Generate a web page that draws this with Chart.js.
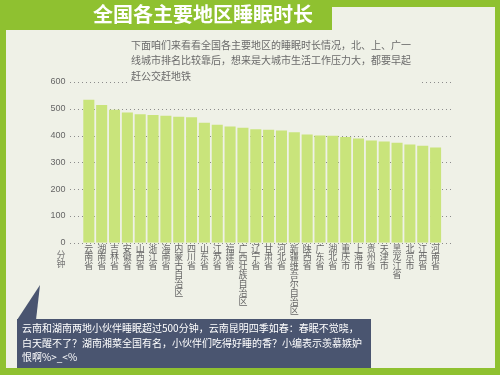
<!DOCTYPE html>
<html>
<head>
<meta charset="utf-8">
<script src="https://cdn.jsdelivr.net/npm/chart.js@4.4.1/dist/chart.umd.min.js"></script>
<style>
html,body{margin:0;padding:0;background:#8fc130;}
#wrap{width:500px;height:375px;position:relative;}
</style>
</head>
<body>
<div id="wrap"><canvas id="c" width="500" height="375"></canvas></div>
<script>
const categories = ["云南省","湖南省","吉林省","安徽省","山西省","浙江省","海南省","内蒙古自治区","四川省","山东省","江苏省","福建省","广西壮族自治区","辽宁省","甘肃省","河北省","新疆维吾尔自治区","陕西省","广东省","湖北省","重庆市","上海市","贵州省","天津市","黑龙江省","北京市","江西省","河南省"];
const sleepMinutes = [534,514,496,486,480,477,474,470,468,448,440,434,429,424,422,419,412,404,400,399,395,389,382,378,373,367,362,355];
const yTickValues = [0,100,200,300,400,500,600];
const titleText = "全国各主要地区睡眠时长";
const yUnitText = "分钟";
const descLines = ["下面咱们来看看全国各主要地区的睡眠时长情况，北、上、广一","线城市排名比较靠后，想来是大城市生活工作压力大，都要早起","赶公交赶地铁"];
const noteLines = ["云南和湖南两地小伙伴睡眠超过500分钟，云南昆明四季如春：春眠不觉晓，","白天醒不了？湖南湘菜全国有名，小伙伴们吃得好睡的香？小编表示羡慕嫉妒","恨啊%>_<%"];

const GREEN = "#8fc130";
const PANEL = "#eff1e7";
const CJK = '"Noto Sans CJK SC", "Noto Sans", sans-serif';

const decor = {
  id: "decor",
  beforeDraw(chart) {
    const ctx = chart.ctx;
    ctx.save();
    ctx.fillStyle = GREEN;
    ctx.fillRect(0, 0, 500, 375);
    ctx.fillStyle = PANEL;
    ctx.beginPath();
    ctx.moveTo(6, 30); ctx.lineTo(332, 30); ctx.lineTo(332, 7);
    ctx.lineTo(495, 7); ctx.lineTo(495, 368); ctx.lineTo(6, 368);
    ctx.closePath(); ctx.fill();
    // title
    ctx.fillStyle = "#ffffff";
    ctx.font = "bold 20px " + CJK;
    ctx.textBaseline = "middle";
    ctx.textAlign = "left";
    ctx.fillText(titleText, 93, 14);
    // dotted grid
    const ys = chart.scales.y;
    ctx.strokeStyle = "#8c8c8c";
    ctx.lineWidth = 1;
    ctx.setLineDash([1, 3]);
    yTickValues.forEach(v => {
      const y = Math.round(ys.getPixelForValue(v)) + 0.5;
      ctx.beginPath(); ctx.moveTo(70, y); ctx.lineTo(452, y); ctx.stroke();
    });
    ctx.restore();
  },
  afterDraw(chart) {
    const ctx = chart.ctx;
    ctx.save();
    // description
    ctx.fillStyle = PANEL;
    ctx.fillRect(127, 36, 294, 50);
    ctx.fillStyle = "#6a6a6a";
    ctx.font = "10px " + CJK;
    ctx.textBaseline = "middle";
    ctx.textAlign = "left";
    descLines.forEach((t, i) => ctx.fillText(t, 131, 45 + i * 15.5));
    // unit
    ctx.fillStyle = "#777777";
    ctx.font = "9px " + CJK;
    ctx.textAlign = "center";
    Array.from(yUnitText).forEach((ch, i) => ctx.fillText(ch, 61, 255 + i * 9));
    // callout
    ctx.fillStyle = "#4a5570";
    ctx.beginPath();
    ctx.moveTo(40, 285); ctx.lineTo(36, 320); ctx.lineTo(17, 320); ctx.closePath(); ctx.fill();
    ctx.fillRect(17, 319, 354, 49);
    ctx.fillStyle = "#ffffff";
    ctx.font = "10px " + CJK;
    ctx.textAlign = "left";
    noteLines.forEach((t, i) => ctx.fillText(t, 22, 328.3 + i * 14.7));
    ctx.restore();
  }
};

new Chart(document.getElementById("c"), {
  type: "bar",
  data: {
    labels: categories.map(s => Array.from(s)),
    datasets: [{
      data: sleepMinutes,
      backgroundColor: "#c9e47b",
      borderWidth: 0,
      barPercentage: 0.86,
      categoryPercentage: 1
    }]
  },
  options: {
    responsive: false,
    animation: false,
    devicePixelRatio: 1,
    layout: { padding: { top: 82, right: 58, left: 0, bottom: 0 } },
    plugins: { legend: { display: false }, tooltip: { enabled: false } },
    scales: {
      x: {
        grid: { display: false, drawTicks: false },
        border: { display: false },
        ticks: {
          autoSkip: false, maxRotation: 0, minRotation: 0, padding: 1,
          color: "#666666",
          font: { size: 9, family: CJK, lineHeight: 0.99 }
        },
        afterFit(s) { s.height = 132.3; }
      },
      y: {
        min: 0, max: 600,
        grid: { display: false, drawTicks: false },
        border: { display: false },
        ticks: {
          stepSize: 100, padding: 17, color: "#666666",
          font: { size: 9, family: '"Liberation Sans", Arial, sans-serif' }
        },
        afterFit(s) { s.width = 82.4; }
      }
    }
  },
  plugins: [decor]
});
</script>
</body>
</html>
